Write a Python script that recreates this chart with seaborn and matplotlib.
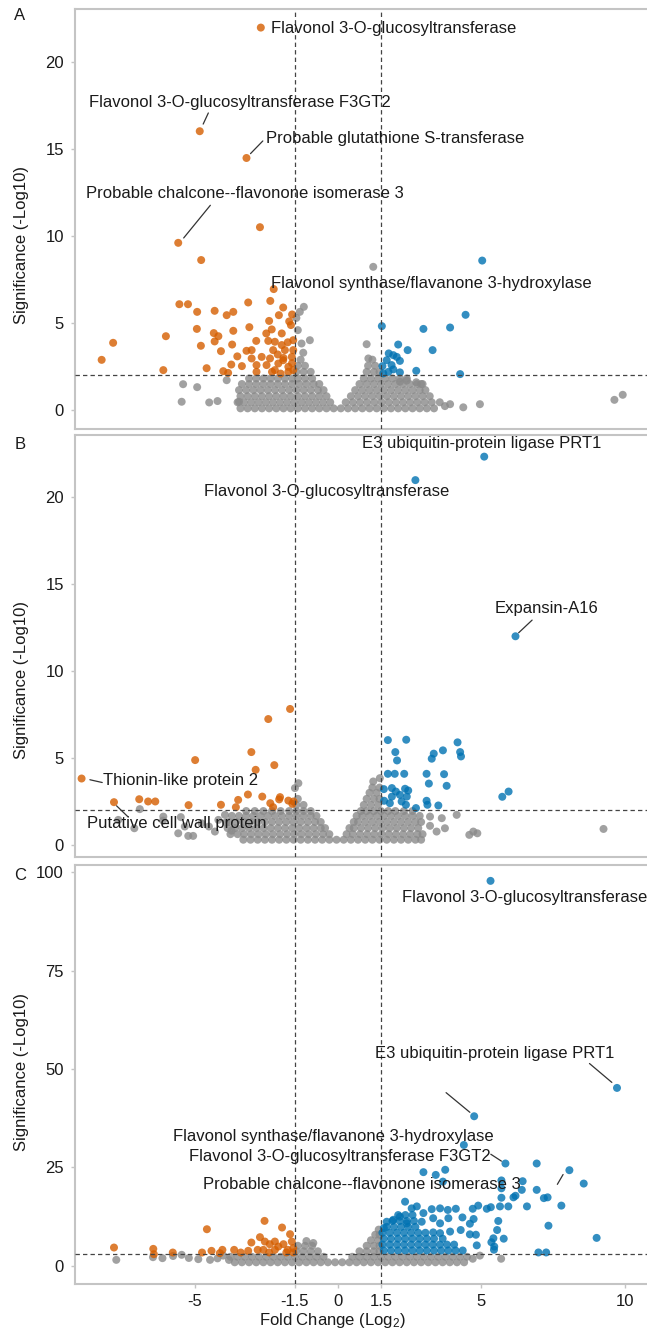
import numpy as np
import pandas as pd
import matplotlib
matplotlib.use("Agg")
import matplotlib.pyplot as plt
import seaborn as sns

# ---------------- data ----------------
# fold change (log2) / significance (-log10) for each panel

x_ticks = [-5, -1.5, 0, 1.5, 5, 10]
x_tick_labels = ["-5", "-1.5", "0", "1.5", "5", "10"]
y_ticks_a = [0, 5, 10, 15, 20]
y_ticks_b = [0, 5, 10, 15, 20]
y_ticks_c = [0, 25, 50, 75, 100]
fc_cut = 1.5
sig_cut_a = 2
sig_cut_b = 2
sig_cut_c = 3

# ---- panel A ----
gray_a_rows = [
    (0.1, [-3.4, -3.15, -2.9, -2.65, -2.4, -2.15, -1.9, -1.65, -1.4, -1.15, -0.9, -0.65, -0.4, -0.15,
           0.1, 0.35, 0.6, 0.85, 1.1, 1.35, 1.6, 1.85, 2.1, 2.35, 2.6, 2.85, 3.1, 3.35]),
    (0.45, [-3.5, -3.27, -3.02, -2.77, -2.52, -2.27, -2.02, -1.77, -1.52, -1.27, -1.02, -0.77, -0.52, -0.27,
            0.27, 0.52, 0.77, 1.02, 1.27, 1.52, 1.77, 2.02, 2.27, 2.52, 2.77, 3.02, 3.27, 3.55]),
    (0.8, [-3.4, -3.15, -2.9, -2.65, -2.4, -2.15, -1.9, -1.65, -1.4, -1.15, -0.9, -0.65, -0.4,
           0.45, 0.7, 0.95, 1.2, 1.45, 1.7, 1.95, 2.2, 2.45, 2.7, 2.95, 3.2]),
    (1.15, [-3.45, -3.2, -2.95, -2.7, -2.45, -2.2, -1.95, -1.7, -1.45, -1.2, -0.95, -0.7, -0.5,
            0.6, 0.85, 1.1, 1.35, 1.6, 1.85, 2.1, 2.35, 2.6, 2.85, 3.05]),
    (1.5, [-3.35, -3.1, -2.85, -2.6, -2.35, -2.1, -1.85, -1.6, -1.35, -1.1, -0.85, -0.65,
           0.75, 1.0, 1.25, 1.5, 1.75, 2.0, 2.25, 2.5, 2.75, 2.95]),
    (1.82, [-3.1, -2.85, -2.6, -2.35, -2.1, -1.85, -1.6, -1.4, -1.15, -0.9,
            0.9, 1.15, 1.4, 1.65, 1.9, 2.15, 2.4]),
    (2.2, [-1.45, -1.2, -0.95, 1.0, 1.25, 1.45]),
    (2.55, [-1.4, -1.15, 1.05, 1.3]),
    (2.9, [-1.3, 1.2]),
]
gray_a_extra = [(-1.19, 5.94), (-1.33, 5.65), (-0.98, 4.02), (-1.27, 3.83), (-1.21, 3.3), (-1.4, 4.6),
                (-1.45, 5.3), (1.0, 3.79), (1.06, 2.97), (1.23, 8.24), (9.64, 0.59), (9.93, 0.88),
                (4.95, 0.34), (4.37, 0.16), (3.91, 0.34), (3.73, 0.23), (-5.40, 1.49), (-4.91, 1.32),
                (-5.45, 0.48), (-4.49, 0.44), (-4.20, 0.52), (-3.88, 1.72), (-3.45, 0.48),
                (2.73, 1.6), (2.9, 1.5), (2.16, 1.63), (2.4, 1.7)]
down_a = [(-2.69, 22.0), (-4.82, 16.04), (-3.19, 14.5), (-5.57, 9.62), (-2.72, 10.52), (-4.77, 8.63),
          (-2.24, 6.96), (-5.53, 6.09), (-5.23, 6.09), (-3.13, 6.19), (-2.36, 6.28), (-4.91, 5.65),
          (-4.30, 5.71), (-3.88, 5.46), (-3.65, 5.65), (-1.91, 5.90), (-2.06, 5.46), (-4.92, 4.67),
          (-4.33, 4.43), (-3.65, 4.56), (-3.09, 4.77), (-2.40, 5.13), (-1.64, 4.89), (-6.00, 4.25),
          (-7.84, 3.87), (-8.24, 2.89), (-6.09, 2.30), (-4.78, 3.70), (-4.30, 3.95), (-4.17, 4.25),
          (-3.69, 3.77), (-4.08, 3.39), (-3.51, 3.09), (-4.58, 2.41), (-3.72, 2.62), (-3.35, 2.53),
          (-4.00, 2.24), (-3.83, 2.14), (-3.19, 3.41), (-3.01, 3.45), (-2.85, 3.98), (-2.50, 4.41),
          (-2.31, 4.64), (-1.96, 4.41), (-1.56, 4.02), (-2.20, 3.93), (-2.43, 3.98), (-2.26, 3.45),
          (-1.85, 3.45), (-1.61, 3.06), (-2.66, 3.06), (-2.84, 2.59), (-2.49, 2.59), (-2.08, 2.68),
          (-1.73, 2.49), (-1.56, 2.30), (-2.84, 2.20), (-2.20, 2.30), (-1.91, 2.87), (-2.37, 2.97),
          (-3.01, 2.97), (-1.96, 3.74), (-1.56, 3.45), (-1.73, 2.20), (-2.1, 3.2), (-1.75, 3.9),
          (-2.0, 2.1), (-1.6, 2.7), (-2.3, 2.2), (-1.9, 3.0), (-1.6, 5.5), (-1.7, 5.1)]
up_a = [(5.03, 8.60), (4.45, 5.48), (3.91, 4.75), (2.98, 4.67), (1.53, 4.83), (3.30, 3.45),
        (2.43, 3.45), (2.10, 3.77), (4.26, 2.07), (2.73, 2.26), (1.77, 3.26), (1.93, 3.16),
        (2.05, 3.06), (2.16, 2.83), (1.70, 2.87), (1.55, 2.53), (1.87, 2.59), (1.76, 2.20),
        (2.16, 2.17), (1.58, 2.11), (1.93, 2.34)]
labels_a = [("Flavonol 3-O-glucosyltransferase", -2.34, 21.95),
            ("Flavonol 3-O-glucosyltransferase F3GT2", -8.67, 17.72),
            ("Probable glutathione S-transferase", -2.51, 15.61),
            ("Probable chalcone--flavonone isomerase 3", -8.77, 12.45),
            ("Flavonol synthase/flavanone 3-hydroxylase", -2.32, 7.28)]
segments_a = [((-4.52, 17.09), (-4.70, 16.45)),
              ((-2.62, 15.48), (-3.05, 14.75)),
              ((-4.45, 11.78), (-5.38, 9.9))]

# ---- panel B ----
gray_b_rows = [
    (0.3, [-3.3, -3.05, -2.8, -2.55, -2.3, -2.05, -1.8, -1.55, -1.3, -1.05, -0.8, -0.55, -0.3, -0.05,
           0.2, 0.45, 0.7, 0.95, 1.2, 1.45, 1.7, 1.95, 2.2, 2.45, 2.7, 2.9]),
    (0.62, [-3.75, -3.5, -3.27, -3.02, -2.77, -2.52, -2.27, -2.02, -1.77, -1.52, -1.27, -1.02, -0.77, -0.52, -0.3,
            0.3, 0.52, 0.77, 1.02, 1.27, 1.52, 1.77, 2.02, 2.27, 2.52, 2.77, 2.95]),
    (0.97, [-3.85, -3.6, -3.35, -3.1, -2.85, -2.6, -2.35, -2.1, -1.85, -1.6, -1.35, -1.1, -0.85, -0.6, -0.45,
            0.4, 0.55, 0.8, 1.05, 1.3, 1.55, 1.8, 2.05, 2.3, 2.55, 2.8]),
    (1.32, [-3.8, -3.55, -3.3, -3.05, -2.8, -2.55, -2.3, -2.05, -1.8, -1.55, -1.3, -1.05, -0.8, -0.6,
            0.55, 0.7, 0.95, 1.2, 1.45, 1.7, 1.95, 2.2, 2.45, 2.7, 2.9]),
    (1.67, [-3.7, -3.45, -3.2, -2.95, -2.7, -2.45, -2.2, -1.95, -1.7, -1.45, -1.2, -0.95, -0.75,
            0.65, 0.85, 1.1, 1.35, 1.6, 1.85, 2.1, 2.35, 2.6, 2.85]),
    (1.95, [-3.2, -2.9, -2.6, -2.3, -2.0, -1.7, -1.45, -1.2, -0.95,
            0.8, 1.0, 1.25, 1.5, 1.75, 2.0, 2.3, 2.6]),
    (2.3, [-1.45, -1.2, 0.9, 1.15, 1.4]),
    (2.65, [-1.4, 1.0, 1.25, 1.45]),
    (3.0, [1.1, 1.35]),
    (3.3, [1.2, 1.45]),
]
gray_b_extra = [(1.46, 3.84), (1.23, 3.65), (-1.38, 3.55), (-1.50, 3.27), (3.21, 1.63), (3.62, 1.54),
                (3.73, 0.96), (3.21, 1.1), (3.44, 0.77), (4.14, 1.73), (4.58, 0.58), (4.72, 0.77),
                (4.86, 0.67), (9.26, 0.92), (-6.91, 2.06), (-7.10, 0.96), (-7.66, 1.44), (-6.09, 1.63),
                (-6.1, 1.4), (-5.48, 1.60), (-5.34, 1.06), (-5.22, 0.52), (-5.05, 0.52), (-5.57, 0.67),
                (-4.76, 1.25), (-4.50, 1.06), (-4.17, 1.44), (-4.29, 0.77), (-3.94, 1.73), (-3.9, 1.3),
                (-3.71, 0.82)]
down_b = [(-1.67, 7.82), (-2.43, 7.24), (-3.02, 5.34), (-4.98, 4.88), (-2.22, 4.59), (-2.87, 4.32),
          (-8.94, 3.82), (-7.81, 2.46), (-6.93, 2.63), (-6.62, 2.50), (-6.37, 2.50), (-5.21, 2.29),
          (-4.08, 2.31), (-3.48, 2.59), (-3.56, 2.17), (-3.14, 2.90), (-2.64, 2.78), (-2.36, 2.40),
          (-2.26, 2.17), (-2.02, 2.75), (-2.05, 2.62), (-1.73, 2.55), (-1.59, 2.36), (-1.55, 2.5)]
up_b = [(5.10, 22.33), (2.70, 20.98), (6.19, 12.0),
        (1.74, 6.03), (2.38, 6.05), (2.0, 5.34), (2.06, 4.86), (4.17, 5.90), (4.26, 5.34), (4.29, 5.09),
        (3.66, 5.44), (3.34, 5.25), (3.27, 4.96), (1.74, 4.09), (1.98, 4.09), (2.31, 4.09), (3.09, 4.09),
        (3.70, 4.07), (3.17, 3.53), (3.79, 3.40), (1.60, 3.21), (1.88, 3.27), (2.02, 3.07), (2.34, 3.23),
        (2.45, 3.13), (2.40, 2.78), (2.16, 2.88), (1.88, 2.78), (1.61, 2.54), (1.81, 2.40), (2.22, 2.50),
        (2.37, 2.31), (2.72, 2.12), (3.09, 2.54), (3.12, 2.31), (3.50, 2.27), (5.73, 2.77), (5.95, 3.07)]
labels_b = [("E3 ubiquitin-protein ligase PRT1", 0.84, 23.11),
            ("Flavonol 3-O-glucosyltransferase", -4.67, 20.31),
            ("Expansin-A16", 5.48, 13.6),
            ("Thionin-like protein 2", -8.19, 3.71),
            ("Putative cell wall protein", -8.74, 1.25)]
segments_b = [((6.77, 12.93), (6.30, 12.2)),
              ((-8.65, 3.75), (-8.22, 3.59)),
              ((-7.72, 2.25), (-7.31, 1.60))]

# ---- panel C ----
gray_c_rows = [
    (0.9, [-3.6, -3.35, -3.1, -2.85, -2.6, -2.35, -2.1, -1.85, -1.6, -1.35, -1.1, -0.85, -0.6, -0.35, -0.1,
           0.15, 0.4, 0.65, 0.9, 1.15, 1.4, 1.65, 1.9, 2.15, 2.4, 2.65, 2.9, 3.15, 3.4, 3.65, 3.9, 4.15, 4.4]),
    (2.3, [-3.75, -3.5, -3.25, -3.0, -2.75, -2.5, -2.25, -2.0, -1.75, -1.5, -1.25, -1.0, -0.75, -0.5,
           0.5, 0.75, 1.0, 1.25, 1.5, 1.75, 2.0, 2.25, 2.5, 2.75, 3.0, 3.25, 3.5, 3.75, 4.0, 4.25, 4.5]),
    (3.7, [-1.45, -1.2, -0.95, -0.7, 0.75, 1.0, 1.25, 1.45]),
    (5.1, [-1.4, -1.15, -0.9, 1.0, 1.25, 1.45]),
    (6.5, [1.15, 1.4]),
    (7.9, [1.3, 1.45]),
    (9.2, [1.42]),
]
gray_c_extra = [(-7.73, 1.52), (-6.12, 1.95), (-5.45, 2.8), (-5.2, 2.0), (-4.87, 1.7), (-4.46, 1.52),
                (-4.2, 1.9), (-3.8, 1.5), (-6.45, 2.2), (-5.75, 2.5), (-4.0, 2.6), (4.95, 2.6),
                (5.69, 1.8), (4.7, 1.8), (-0.86, 5.8), (-1.1, 6.3)]
down_c = [(-7.81, 4.65), (-6.44, 4.31), (-6.42, 2.96), (-5.76, 3.38), (-4.57, 9.3), (-4.74, 3.38),
          (-4.41, 3.81), (-4.12, 3.22), (-4.03, 4.06), (-3.62, 4.06), (-3.39, 3.38), (-3.13, 3.81),
          (-3.02, 5.92), (-2.72, 7.28), (-2.56, 11.42), (-1.95, 9.73), (-1.67, 8.04), (-2.55, 6.17),
          (-2.20, 6.17), (-2.38, 5.5), (-2.08, 4.9), (-1.9, 5.5), (-1.61, 6.17), (-2.2, 4.06),
          (-1.75, 4.06), (-2.6, 4.06), (-2.8, 4.06), (-1.56, 4.5), (-1.8, 3.4), (-2.4, 3.4), (-1.56, 3.4)]
up_c_rows = [
    (3.9, [1.6, 1.85, 2.1, 2.35, 2.6, 2.85, 3.1, 3.35, 3.6, 3.85, 4.1, 4.35]),
    (5.4, [1.55, 1.8, 2.05, 2.3, 2.55, 2.8, 3.05, 3.3, 3.55, 3.8, 4.05]),
    (6.9, [1.6, 1.85, 2.1, 2.35, 2.6, 2.85, 3.1, 3.35, 3.65]),
    (8.4, [1.55, 1.8, 2.05, 2.3, 2.55, 2.8, 3.05]),
    (9.9, [1.7, 1.95, 2.2, 2.45, 2.7]),
    (11.4, [1.9, 2.15, 2.4, 2.65]),
    (12.9, [2.1, 2.35, 2.6]),
]
up_c = [(5.32, 97.8), (9.73, 45.2), (4.75, 38.0), (4.39, 30.7), (5.84, 26.0), (6.93, 26.0), (8.07, 24.3),
        (8.57, 20.9), (2.98, 23.8), (3.41, 23.1), (3.74, 24.4), (3.66, 21.4), (5.70, 21.7), (6.44, 21.5),
        (5.70, 19.7), (6.41, 19.3), (6.93, 19.3), (6.19, 17.8), (6.12, 17.4), (7.18, 17.2), (7.31, 17.4),
        (5.70, 17.3), (7.79, 15.3), (7.34, 10.2), (9.02, 7.1), (6.99, 3.4), (7.26, 3.4), (6.59, 15.1),
        (5.94, 15.1), (5.65, 15.1), (5.33, 14.9), (5.19, 14.5), (4.89, 15.3), (4.70, 14.5), (4.11, 14.5),
        (3.83, 14.2), (3.56, 14.6), (3.27, 14.4), (2.34, 16.3), (2.57, 14.6), (2.75, 15.1), (4.34, 12.3),
        (4.73, 11.9), (4.60, 10.7), (5.59, 11.4), (5.55, 9.1), (5.42, 7.0), (5.78, 6.9), (5.35, 6.0),
        (5.45, 4.9), (5.44, 4.1), (4.84, 5.2), (4.81, 7.9), (4.60, 8.0), (4.28, 9.1), (3.91, 8.7),
        (3.56, 8.3), (3.32, 8.5), (3.56, 10.8), (3.32, 12.1), (3.85, 12.1), (2.98, 13.4), (2.92, 11.2),
        (2.40, 10.8), (2.16, 12.5), (1.93, 11.7), (1.70, 11.2), (1.60, 9.6)]
labels_c = [("Flavonol 3-O-glucosyltransferase", 2.23, 93.6),
            ("E3 ubiquitin-protein ligase PRT1", 1.29, 54.0),
            ("Flavonol synthase/flavanone 3-hydroxylase", -5.76, 32.8),
            ("Flavonol 3-O-glucosyltransferase F3GT2", -5.21, 27.7),
            ("Probable chalcone--flavonone isomerase 3", -4.69, 20.6)]
segments_c = [((8.77, 51.4), (9.55, 46.6)),
              ((3.77, 44.0), (4.6, 39.0)),
              ((5.33, 28.35), (5.70, 26.6)),
              ((7.65, 20.7), (7.85, 23.2))]

# ---------------- styling ----------------
sns.set_theme(style="white")
plt.rcParams["font.family"] = ["Liberation Sans", "DejaVu Sans"]
plt.rcParams["mathtext.fontset"] = "custom"
plt.rcParams["mathtext.rm"] = "Liberation Sans"
plt.rcParams["mathtext.it"] = "Liberation Sans:italic"

palette = {"ns": "#8a8a8a", "down": "#D55E00", "up": "#0072B2"}
spine_col = "#c4c4c4"
text_col = "#1a1a1a"


def build_frame(gray_rows, gray_extra, down, up, up_rows=None):
    rows = []
    for y, xs in gray_rows:
        for x in xs:
            rows.append((x, y, "ns"))
    for x, y in gray_extra:
        rows.append((x, y, "ns"))
    for x, y in down:
        rows.append((x, y, "down"))
    if up_rows:
        for y, xs in up_rows:
            for x in xs:
                rows.append((x, y, "up"))
    for x, y in up:
        rows.append((x, y, "up"))
    return pd.DataFrame(rows, columns=["fc", "sig", "group"])


panels = [
    dict(df=build_frame(gray_a_rows, gray_a_extra, down_a, up_a), ylim=(-1.1, 23.05),
         yticks=y_ticks_a, cut=sig_cut_a, labels=labels_a, segs=segments_a,
         pos=[0.1159, 0.678, 0.8887, 0.315], letter="A", ly=0.438),
    dict(df=build_frame(gray_b_rows, gray_b_extra, down_b, up_b), ylim=(-0.7, 23.6),
         yticks=y_ticks_b, cut=sig_cut_b, labels=labels_b, segs=segments_b,
         pos=[0.1159, 0.357, 0.8887, 0.317], letter="B", ly=0.419),
    dict(df=build_frame(gray_c_rows, gray_c_extra, down_c, up_c, up_c_rows), ylim=(-4.6, 101.8),
         yticks=y_ticks_c, cut=sig_cut_c, labels=labels_c, segs=segments_c,
         pos=[0.1159, 0.0368, 0.8887, 0.3142], letter="C", ly=0.506),
]

fig = plt.figure(figsize=(6.47, 13.33), dpi=100)

letter_y = {"A": 1 - 16 / 1333, "B": 1 - 444 / 1333, "C": 1 - 875 / 1333}

for i, p in enumerate(panels):
    ax = fig.add_axes(p["pos"])
    sns.scatterplot(data=p["df"], x="fc", y="sig", hue="group", palette=palette,
                    s=33, linewidth=0, alpha=0.8, legend=False, ax=ax, zorder=2)
    ax.set_xlim(-9.17, 10.88)
    ax.set_ylim(*p["ylim"])

    # cut-off lines
    for xv in (-fc_cut, fc_cut):
        ax.axvline(xv, color="#444444", lw=0.9, ls=(0, (3.5, 2.5)), zorder=3)
    ax.axhline(p["cut"], color="#444444", lw=0.9, ls=(0, (3.5, 2.5)), zorder=3)

    # gene labels
    for txt, tx, ty in p["labels"]:
        ax.text(tx, ty, txt, ha="left", va="center", fontsize=12, color=text_col, zorder=4)
    for (x0, y0), (x1, y1) in p["segs"]:
        ax.plot([x0, x1], [y0, y1], color="#333333", lw=0.9, zorder=4)

    # axes styling
    for side in ("left", "top", "bottom"):
        ax.spines[side].set_visible(True)
        ax.spines[side].set_color(spine_col)
        ax.spines[side].set_linewidth(1.5)
    ax.spines["right"].set_visible(False)

    ax.set_yticks(p["yticks"])
    ax.set_yticklabels([str(v) for v in p["yticks"]])
    ax.tick_params(axis="y", left=True, length=3, width=1, color=spine_col, pad=5,
                   labelsize=12, labelcolor=text_col)
    ax.set_xticks(x_ticks)
    if i < 2:
        ax.tick_params(axis="x", bottom=False, labelbottom=False)
        ax.set_xlabel("")
    else:
        ax.set_xticklabels(x_tick_labels)
        ax.tick_params(axis="x", bottom=True, length=3, width=1, color=spine_col, pad=4,
                       labelsize=12, labelcolor=text_col)
        ax.set_xlabel(r"Fold Change (Log$_{\mathregular{2}}$)", fontsize=12, color=text_col)
        ax.xaxis.set_label_coords(0.447, -0.064)

    ax.set_ylabel("Significance (-Log10)", fontsize=12, color=text_col)
    ax.yaxis.set_label_coords(-0.08, p["ly"])
    ax.grid(False)

    fig.text(20 / 647, letter_y[p["letter"]], p["letter"], ha="center", va="center",
             fontsize=12, color=text_col)

fig.savefig("out.png", dpi=100)
